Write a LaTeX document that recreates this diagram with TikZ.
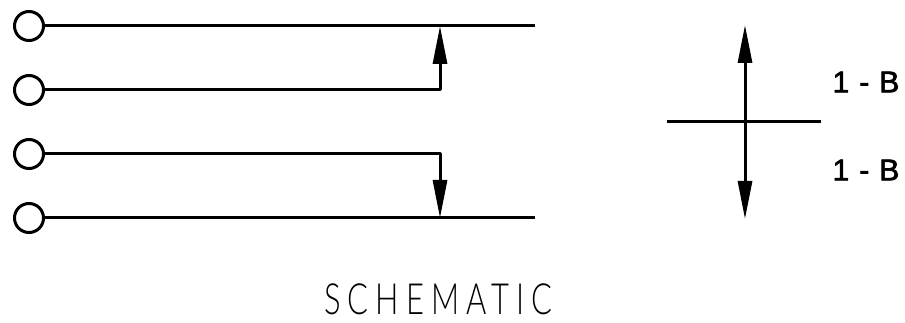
\documentclass[tikz,border=0pt]{standalone}
\usepackage{fontspec}
\setmainfont{Liberation Sans}
\newfontfamily\thinfont[FakeStretch=0.72,LetterSpace=16.5]{Lato Light}
\newfontfamily\markfont[FakeBold=2.2,WordSpace=1.2]{Liberation Sans}
\usetikzlibrary{arrows.meta}

\tikzset{
  port/.style={draw,circle,line width=3pt,minimum size=29pt,inner sep=0pt},
  wire/.style={line width=3pt},
  feed/.style={line width=3pt,-{Triangle[length=38pt,width=14pt]}},
  mark label/.style={inner sep=0pt,font=\markfont\fontsize{30}{30}\selectfont},
}

\begin{document}
\begin{tikzpicture}[x=1pt,y=-1pt]
  \useasboundingbox (0,0) rectangle (905,323);

  % Define nodes
  \node[port] (in1) at (29,26)  {};
  \node[port] (in2) at (29,90)  {};
  \node[port] (in3) at (29,154) {};
  \node[port] (in4) at (29,218) {};

  \coordinate (end1) at (535,26);
  \coordinate (end4) at (535,218);
  \coordinate (top)  at (440,26);
  \coordinate (low)  at (440,218);
  \coordinate (bend2) at (440,90);
  \coordinate (bend3) at (440,154);

  \coordinate (up)    at (745,25);
  \coordinate (down)  at (745,219);
  \coordinate (left)  at (667,122);
  \coordinate (right) at (821,122);
  \coordinate (mid)   at (745,122);

  \node[mark label] (upper) at (866,82)  {1 - B};
  \node[mark label] (lower) at (866,170) {1 - B};
  \node[inner sep=0pt,font=\thinfont\fontsize{43}{43}\selectfont] (title) at (438.5,299.5) {SCHEMATIC};

  % Lines
  \draw[wire] (in1) -- (end1);
  \draw[wire] (in4) -- (end4);
  \draw[feed,line join=round] (in2) -- (bend2) -- (top);
  \draw[feed,line join=round] (in3) -- (bend3) -- (low);

  % Marker
  \draw[wire] (left) -- (right);
  \draw[feed] (mid) -- (up);
  \draw[feed] (mid) -- (down);

\end{tikzpicture}
\end{document}
